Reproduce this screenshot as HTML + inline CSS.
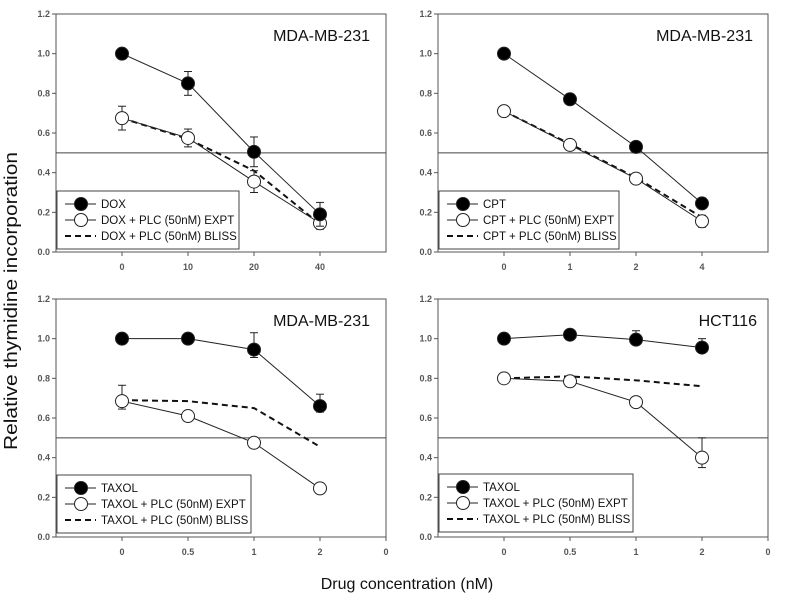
<!DOCTYPE html>
<html><head><meta charset="utf-8"><style>
html,body{margin:0;padding:0;background:#fff;width:785px;height:593px;overflow:hidden}
svg text{font-family:"Liberation Sans",sans-serif}
</style></head><body>
<svg id="fig" width="785" height="593" viewBox="0 0 785 593" xmlns="http://www.w3.org/2000/svg">
<text transform="translate(17,301) rotate(-90)" text-anchor="middle" font-size="18" textLength="298" lengthAdjust="spacingAndGlyphs" fill="#111">Relative thymidine incorporation</text>
<text x="407" y="589" text-anchor="middle" font-size="16" fill="#111">Drug concentration (nM)</text>
</svg>
<script>
// Panel data
const p1Cats = ["0","10","20","40"];
const p1Drug = [1.0,0.85,0.505,0.19];
const p1DrugErr = [0,0.06,0.075,0.06];
const p1Expt = [0.675,0.575,0.355,0.145];
const p1ExptErr = [0.06,0.045,0.055,0.03];
const p1Bliss = [0.675,0.57,0.41,0.14];

const p2Cats = ["0","1","2","4"];
const p2Drug = [1.0,0.77,0.53,0.245];
const p2DrugErr = [0,0.025,0.02,0.02];
const p2Expt = [0.71,0.54,0.37,0.155];
const p2ExptErr = [0,0,0,0.03];
const p2Bliss = [0.71,0.545,0.375,0.175];

const p3Cats = ["0","0.5","1","2"];
const p3Drug = [1.0,1.0,0.945,0.66];
const p3DrugErr = [0,0,0.085,0.06];
const p3Expt = [0.685,0.61,0.475,0.245];
const p3ExptErr = [0.08,0,0,0];
const p3Bliss = [0.69,0.685,0.65,0.455];

const p4Cats = ["0","0.5","1","2"];
const p4Drug = [1.0,1.02,0.995,0.955];
const p4DrugErr = [0,0,0.045,0.045];
const p4Expt = [0.8,0.785,0.68,0.40];
const p4ExptErr = [0,0,0,0.1];
const p4Bliss = [0.8,0.81,0.79,0.76];

const yTicks = [0,0.2,0.4,0.6,0.8,1.0,1.2];

const NS="http://www.w3.org/2000/svg";
const svg=document.getElementById('fig');
function mk(tag,attrs,parent){const e=document.createElementNS(NS,tag);for(const k in attrs)e.setAttribute(k,attrs[k]);(parent||svg).appendChild(e);return e;}

function panel(opt){
  const g=mk('g',{});
  
  
  const L=opt.x0,R=opt.x0+330,T=opt.y0,B=opt.y0+238;
  const step=(R-L)/5;
  const xs=i=>L+step*(i+1);
  const ys=v=>B-(v/1.2)*(B-T);
  const frame=mk('rect',{x:L,y:T,width:R-L,height:B-T,fill:'none',stroke:'#555','stroke-width':1},g);
  
  
  yTicks.forEach(v=>{
    mk('line',{x1:L-4,x2:L,y1:ys(v),y2:ys(v),stroke:'#555'},g);
    const t=mk('text',{x:L-6,y:ys(v)+3,'text-anchor':'end','font-size':9,'font-weight':'bold',fill:'#555'},g);
    t.textContent=v.toFixed(1);
    
    
  });
  opt.cats.forEach((c,i)=>{
    mk('line',{x1:xs(i),x2:xs(i),y1:B,y2:B+4,stroke:'#555'},g);
    const t=mk('text',{x:xs(i),y:B+18,'text-anchor':'middle','font-size':9,'font-weight':'bold',fill:'#555'},g);
    t.textContent=c;
    
    
  });
  if(opt.endZero){
    mk('line',{x1:R,x2:R,y1:B,y2:B+4,stroke:'#555'},g);
    const t=mk('text',{x:R,y:B+18,'text-anchor':'middle','font-size':9,'font-weight':'bold',fill:'#555'},g);
    t.textContent='0';
    
    
  }
  const ref=mk('line',{x1:L,x2:R,y1:ys(0.5),y2:ys(0.5),stroke:'#444','stroke-width':1},g);
  
  
  const tt=mk('text',{x:opt.titleX,y:T+27,'text-anchor':'end','font-size':16,fill:'#111'},g);
  tt.textContent=opt.title;
  
  
  const bl=mk('polyline',{points:opt.bliss.map((v,i)=>xs(i)+','+ys(v)).join(' '),fill:'none',stroke:'#111','stroke-width':2,'stroke-dasharray':'6,4'},g);
  
  
  [[opt.expt,opt.exptErr,'#fff','expt'],[opt.drug,opt.drugErr,'#000','drug']].forEach(([vals,errs,fill,nm])=>{
    const ln=mk('polyline',{points:vals.map((v,i)=>xs(i)+','+ys(v)).join(' '),fill:'none',stroke:'#222','stroke-width':1},g);
    
    
    vals.forEach((v,i)=>{
      const e=errs[i];
      if(e>0){
        const lo=(opt.lowerErr&&opt.lowerErr[nm])?opt.lowerErr[nm][i]:e;
        mk('line',{x1:xs(i),x2:xs(i),y1:ys(v+e),y2:ys(v-lo),stroke:'#222'},g);
        mk('line',{x1:xs(i)-4,x2:xs(i)+4,y1:ys(v+e),y2:ys(v+e),stroke:'#222'},g);
        mk('line',{x1:xs(i)-4,x2:xs(i)+4,y1:ys(v-lo),y2:ys(v-lo),stroke:'#222'},g);
      }
      const c=mk('circle',{cx:xs(i),cy:ys(v),r:6.5,fill:fill,stroke:'#222','stroke-width':1},g);
      
      
    });
  });
  const lx=L+1,ly=opt.legY,lw=opt.legW;
  const lg=mk('g',{},g);
  
  
  mk('rect',{x:lx,y:ly,width:lw,height:58,fill:'#fff',stroke:'#444'},lg);
  const rows=[[opt.drugName,'fill'],[opt.drugName+' + PLC (50nM) EXPT','open'],[opt.drugName+' + PLC (50nM) BLISS','dash']];
  rows.forEach((r,k)=>{
    const yy=ly+13+k*16;
    if(r[1]==='dash'){
      mk('line',{x1:lx+8,x2:lx+39,y1:yy,y2:yy,stroke:'#111','stroke-width':2,'stroke-dasharray':'6,4'},lg);
    }else{
      mk('line',{x1:lx+8,x2:lx+39,y1:yy,y2:yy,stroke:'#222'},lg);
      mk('circle',{cx:lx+24,cy:yy,r:6.5,fill:r[1]==='fill'?'#000':'#fff',stroke:'#222'},lg);
    }
    const t=mk('text',{x:lx+44,y:yy+4,'font-size':11.5,fill:'#111'},lg);
    t.textContent=r[0];
    
    
  });
}

panel({name:'panel-dox',x0:56,y0:14,cats:p1Cats,drug:p1Drug,drugErr:p1DrugErr,expt:p1Expt,exptErr:p1ExptErr,bliss:p1Bliss,title:'MDA-MB-231',titleX:370,drugName:'DOX',legY:191,legW:182});
panel({name:'panel-cpt',x0:438,y0:14,cats:p2Cats,drug:p2Drug,drugErr:p2DrugErr,expt:p2Expt,exptErr:p2ExptErr,bliss:p2Bliss,title:'MDA-MB-231',titleX:753,drugName:'CPT',legY:191,legW:180});
panel({name:'panel-taxol-mda',x0:56,y0:299,cats:p3Cats,drug:p3Drug,drugErr:p3DrugErr,expt:p3Expt,exptErr:p3ExptErr,bliss:p3Bliss,title:'MDA-MB-231',titleX:370,drugName:'TAXOL',legY:475,legW:194,endZero:true,lowerErr:{drug:[0,0,0.04,0.03],expt:[0.04,0,0,0]}});
panel({name:'panel-taxol-hct',x0:438,y0:299,cats:p4Cats,drug:p4Drug,drugErr:p4DrugErr,expt:p4Expt,exptErr:p4ExptErr,bliss:p4Bliss,title:'HCT116',titleX:757,drugName:'TAXOL',legY:474,legW:194,endZero:true,lowerErr:{drug:[0,0,0.02,0.02],expt:[0,0,0,0.05]}});
</script>
</body></html>
